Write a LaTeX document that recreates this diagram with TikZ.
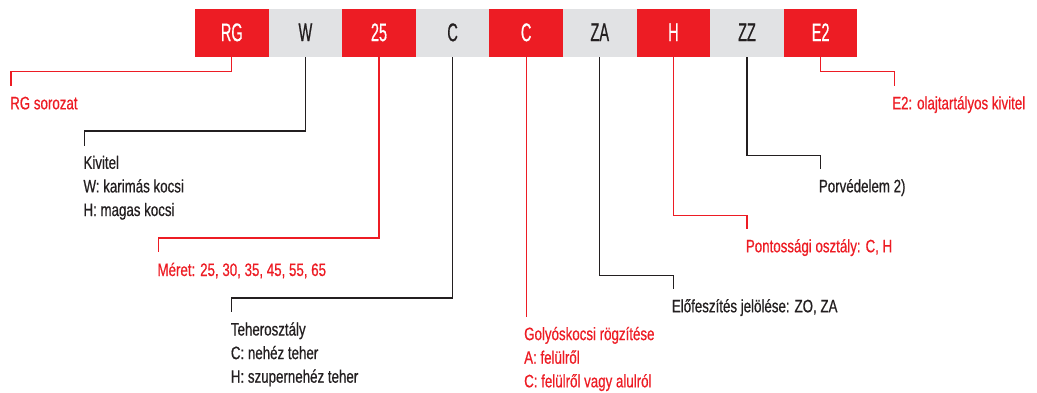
\documentclass[tikz,border=0pt]{standalone}
\usepackage{fontspec}
\setmainfont[FakeStretch=0.74,FakeBold=0.6]{Liberation Sans}
\newfontfamily\boxfont[FakeStretch=0.57,FakeBold=0.6]{Liberation Sans}
\definecolor{kred}{HTML}{ED1C24}
\definecolor{kgrey}{HTML}{E1E2E4}
\definecolor{kdark}{HTML}{231F20}
\tikzset{
  codebox/.style={minimum width=73.6pt,minimum height=48pt,inner sep=0pt,outer sep=0pt,anchor=north west,
    font=\boxfont\fontsize{25.5}{25.5}\selectfont},
  redbox/.style={codebox,fill=kred,text=white},
  greybox/.style={codebox,fill=kgrey,text=kdark},
  lbl/.style={anchor=base west,inner sep=0pt,align=left,font=\fontsize{18}{23.6}\selectfont},
  redlbl/.style={lbl,text=kred},
  darklbl/.style={lbl,text=kdark},
  redline/.style={draw=kred,line width=1.3pt},
  darkline/.style={draw=kdark,line width=1.3pt}
}
\begin{document}
\begin{tikzpicture}[x=1pt,y=-1pt]
\useasboundingbox (0,0) rectangle (1037,392);
% code boxes
\node[redbox]  (b1) at (195,9) {\raisebox{1.5pt}{RG}};
\node[greybox] (b2) at (268.6,9) {\raisebox{1.5pt}{W}};
\node[redbox]  (b3) at (342.2,9) {\raisebox{1.5pt}{25}};
\node[greybox] (b4) at (415.8,9) {\raisebox{1.5pt}{C}};
\node[redbox]  (b5) at (489.4,9) {\raisebox{1.5pt}{C}};
\node[greybox] (b6) at (563,9) {\raisebox{1.5pt}{ZA}};
\node[redbox]  (b7) at (636.6,9) {\raisebox{1.5pt}{H}};
\node[greybox] (b8) at (710.2,9) {\raisebox{1.5pt}{ZZ}};
\node[redbox]  (b9) at (783.8,9) {\raisebox{1.5pt}{E2}};
% labels (anchor = baseline of the last line)
\node[redlbl]  (l1) at (10,109.3) {RG sorozat};
\node[darklbl] (l2) at (83.3,216) {Kivitel\\W: karimás kocsi\\H: magas kocsi};
\node[redlbl]  (l3) at (157.3,276) {Méret: 25, 30, 35, 45, 55, 65};
\node[darklbl] (l4) at (230.7,382.7) {Teherosztály\\C: nehéz teher\\H: szupernehéz teher};
\node[redlbl]  (l5) at (524,387.3) {Golyóskocsi rögzítése\\A: felülről\\C: felülről vagy alulról};
\node[darklbl] (l6) at (671.7,312.3) {Előfeszítés jelölése: ZO, ZA};
\node[redlbl]  (l7) at (745.7,252.3) {Pontossági osztály: C, H};
\node[darklbl] (l8) at (818.7,192.3) {Porvédelem 2)};
\node[redlbl]  (l9) at (892,109.3) {E2: olajtartályos kivitel};
% connector ends
\coordinate (e1) at (11,85.7);
\coordinate (e2) at (84.6,146);
\coordinate (e3) at (158.2,252);
\coordinate (e4) at (231.8,312);
\coordinate (e5) at (526.2,317);
\coordinate (e6) at (673.4,289.3);
\coordinate (e7) at (747,229.3);
\coordinate (e8) at (820.6,169.3);
\coordinate (e9) at (894.2,85.7);
% connectors
\draw[redline]  (b1.south) -- ++(0,14.3) -| (e1);
\draw[darkline] (b2.south) -- ++(0,74) -| (e2);
\draw[redline]  (b3.south) -- ++(0,181) -| (e3);
\draw[darkline] (b4.south) -- ++(0,241) -| (e4);
\draw[redline]  (b5.south) -- (e5);
\draw[darkline] (b6.south) -- ++(0,218.3) -| (e6);
\draw[redline]  (b7.south) -- ++(0,158.7) -| (e7);
\draw[darkline] (b8.south) -- ++(0,98.3) -| (e8);
\draw[redline]  (b9.south) -- ++(0,14.3) -| (e9);
\end{tikzpicture}
\end{document}
